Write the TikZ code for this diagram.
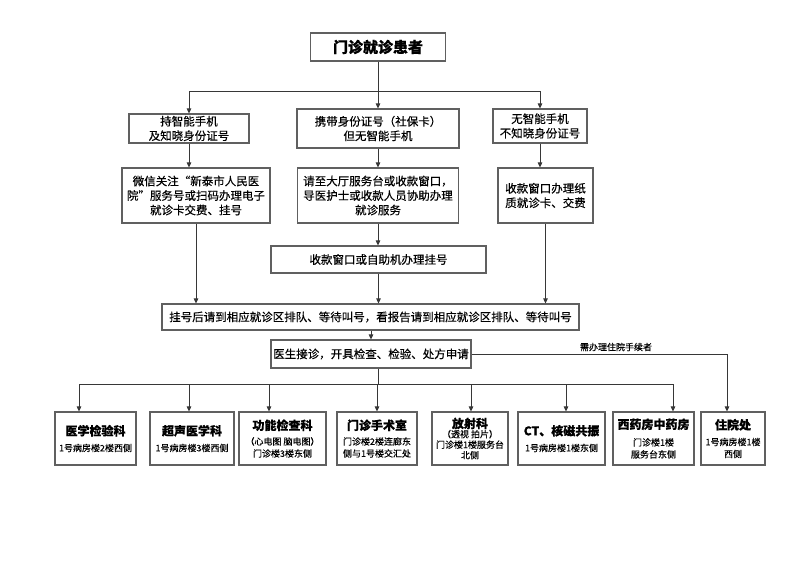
\documentclass[tikz,border=0pt]{standalone}
\usepackage{fontspec}
\setmainfont{Noto Sans CJK SC}[FakeBold=0.4]
\usepackage{xcolor}
\definecolor{Col1}{RGB}{96,96,96}
\definecolor{Col2}{RGB}{55,55,55}
\usepackage{tikz}
\usetikzlibrary{arrows.meta}
\tikzstyle{Box}=[draw=Col1,line width=1.1pt,fill=white,align=center,
inner sep=0pt,font=\fontsize{11.5}{14.5}\selectfont]
\tikzstyle{Dept}=[Box,minimum height=53,font=\fontsize{9}{12}\selectfont]
\tikzstyle{Edge}=[draw=Col2,line width=0.8pt]
\tikzstyle{Arrow}=[Edge,-{Triangle[length=5pt,width=4.5pt]}]
\tikzstyle{Note}=[font=\fontsize{9}{10}\selectfont]
\newcommand{\DeptName}[2][4pt]{{\fontsize{12}{14}\selectfont\bfseries #2}\\[#1]}

\begin{document}
\begin{tikzpicture}[x=1pt,y=-1pt]
        \useasboundingbox[fill=white](0,0)rectangle(800,566);
        \node[Box,minimum width=135,minimum height=28,
          font=\fontsize{15}{17}\selectfont\bfseries](Top)at(378,47){门诊就诊患者};
        \node[Box,minimum width=120,minimum height=29](Phone)at(189,128.5){持智能手机\\及知晓身份证号};
        \node[Box,minimum width=162,minimum height=39](Card)at(378,128.5){携带身份证号（社保卡）\\但无智能手机};
        \node[Box,minimum width=94,minimum height=34](NoPhone)at(540,126){无智能手机\\不知晓身份证号};
        \node[Box,minimum width=148,minimum height=55](Wechat)at(196,195.5){微信关注“新泰市人民医\\院”服务号或扫码办理电子\\就诊卡交费、挂号};
        \node[Box,minimum width=161,minimum height=55](Desk)at(378,195.5){请至大厅服务台或收款窗口，\\导医护士或收款人员协助办理\\就诊服务};
        \node[Box,minimum width=95,minimum height=55](Paper)at(545.5,195.5){收款窗口办理纸\\质就诊卡、交费};
        \node[Box,minimum width=215,minimum height=27](Reg)at(378.5,259.5){收款窗口或自助机办理挂号};
        \node[Box,minimum width=417,minimum height=26](Queue)at(370.5,317){挂号后请到相应就诊区排队、等待叫号，看报告请到相应就诊区排队、等待叫号};
        \node[Box,minimum width=200,minimum height=28](Doctor)at(371,354){医生接诊，开具检查、检验、处方申请};
        \node[Dept,minimum width=81](Lab)at(95.5,438.5){\DeptName{医学检验科}1号病房楼2楼西侧};
        \node[Dept,minimum width=84](Echo)at(192,438.5){\DeptName{超声医学科}1号病房楼3楼西侧};
        \node[Dept,minimum width=87](Func)at(282.5,438.5){\DeptName[3pt]{功能检查科}（心电图 脑电图）\\门诊楼3楼东侧};
        \node[Dept,minimum width=80](Surg)at(377,438.5){\DeptName[3pt]{门诊手术室}门诊楼2楼连廊东\\侧与1号楼交汇处};
        \node[Dept,minimum width=76,font=\fontsize{9}{10.5}\selectfont](Xray)at(470,438.5){\DeptName[-1pt]{放射科}（透视 拍片）\\门诊楼1楼服务台\\北侧};
        \node[Dept,minimum width=87](CT)at(561.5,438.5){\DeptName{CT、核磁共振}1号病房楼1楼东侧};
        \node[Dept,minimum width=81](Drug)at(653.5,438.5){\DeptName[5pt]{西药房中药房}门诊楼1楼\\服务台东侧};
        \node[Dept,minimum width=64](Ward)at(733,438.5){\DeptName{住院处}1号病房楼1楼\\西侧};
        \node[Note](Need)at(616,347){需办理住院手续者};
        \coordinate(Split)at(378,91);
        \coordinate(Bus)at(378,384);
        \coordinate(Ward-in)at(727,354);
        \draw[Arrow](Top)--(Card);
        \draw[Arrow](Split)-|(Phone);
        \draw[Arrow](Split)-|(NoPhone);
        \draw[Arrow](Phone.south)--(Phone.south|-Wechat.north);
        \draw[Arrow](Card)--(Desk);
        \draw[Arrow](NoPhone.south)--(NoPhone.south|-Paper.north);
        \draw[Arrow](Desk.south)--(Desk.south|-Reg.north);
        \draw[Arrow](Wechat.south)--(Wechat.south|-Queue.north);
        \draw[Arrow](Reg.south)--(Reg.south|-Queue.north);
        \draw[Arrow](Paper.south)--(Paper.south|-Queue.north);
        \draw[Arrow](Doctor.north|-Queue.south)--(Doctor.north);
        \draw[Edge](Doctor.south-|Bus)--(Bus);
        \foreach \n/\x in {Lab/79,Echo/189,Func/269,Surg/377,Xray/471,CT/566,Drug/673}{
          \coordinate(\n-in)at(\x,384);
          \draw[Arrow](\n-in)--(\n-in|-\n.north);
        }
        \draw[Edge](Lab-in)--(Drug-in);
        \draw[Arrow](Doctor.east)--(Ward-in)--(Ward-in|-Ward.north);
    \end{tikzpicture}
\end{document}
